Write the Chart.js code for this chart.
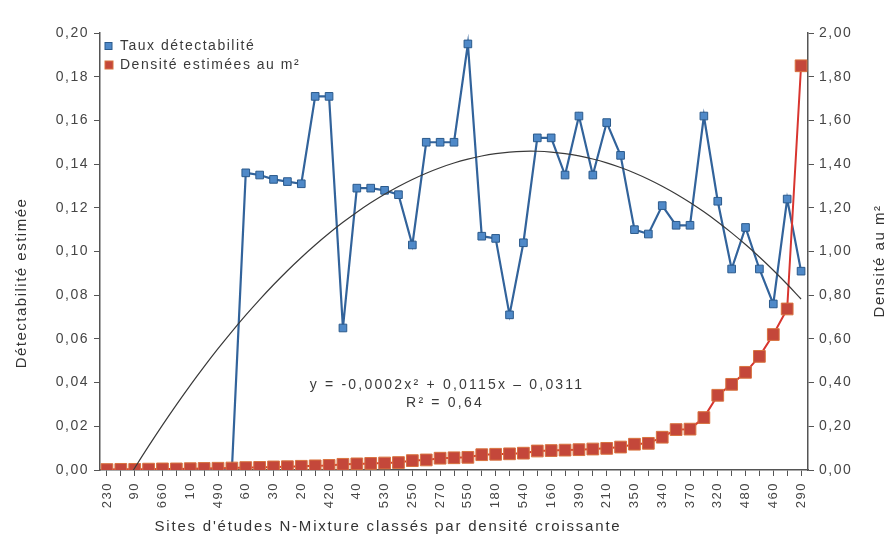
<!DOCTYPE html>
<html lang="fr">
<head>
<meta charset="utf-8">
<title>Détectabilité et densité par site</title>
<script src="https://cdn.jsdelivr.net/npm/chart.js@4.4.1/dist/chart.umd.min.js"></script>
<style>
  html, body { margin: 0; padding: 0; background: #fff; }
  #wrap { width: 892px; height: 543px; position: relative; }
</style>
</head>
<body>
<div id="wrap"><canvas id="chart"></canvas></div>
<script>
// Sites sorted by increasing density (only every other site is labelled)
const sites = ['230', '', '90', '', '660', '', '10', '', '490', '', '60', '', '30', '', '20', '',
  '420', '', '40', '', '530', '', '250', '', '270', '', '550', '', '180', '', '540', '',
  '160', '', '390', '', '210', '', '350', '', '340', '', '370', '', '320', '', '480', '',
  '460', '', '290'];

// Taux de détectabilité (axe gauche)
const detectabilite = [0, 0, 0, 0, 0, 0, 0, 0, 0, 0,
  0.136, 0.135, 0.133, 0.132, 0.131, 0.171, 0.171, 0.065, 0.129, 0.129,
  0.128, 0.126, 0.103, 0.150, 0.150, 0.150, 0.195, 0.107, 0.106, 0.071,
  0.104, 0.152, 0.152, 0.135, 0.162, 0.135, 0.159, 0.144, 0.110, 0.108,
  0.121, 0.112, 0.112, 0.162, 0.123, 0.092, 0.111, 0.092, 0.076, 0.124,
  0.091];

// Densité estimée au m² (axe droit)
const densite = [0.002, 0.003, 0.003, 0.004, 0.005, 0.005, 0.006, 0.007, 0.008, 0.009,
  0.011, 0.012, 0.014, 0.015, 0.017, 0.019, 0.021, 0.026, 0.028, 0.030,
  0.032, 0.034, 0.043, 0.046, 0.054, 0.056, 0.058, 0.070, 0.072, 0.074,
  0.077, 0.087, 0.089, 0.091, 0.093, 0.096, 0.099, 0.105, 0.118, 0.122,
  0.150, 0.185, 0.187, 0.240, 0.342, 0.392, 0.447, 0.520, 0.620, 0.737,
  1.850];

const equationText = 'y = -0,0002x² + 0,0115x – 0,0311';
const r2Text = 'R² = 0,64';

const FONT = "'Liberation Sans', Arial, Helvetica, sans-serif";
Chart.defaults.font.family = FONT;
Chart.defaults.font.size = 14;
Chart.defaults.color = '#454545';

// Least squares polynomial trend (order 2), x = 1..n as in a spreadsheet
function quadFit(ys) {
    const s = [0, 0, 0, 0, 0], t = [0, 0, 0];
    ys.forEach((y, i) => {
        const x = i + 1;
        for (let k = 0; k < 5; k++) s[k] += Math.pow(x, k);
        for (let k = 0; k < 3; k++) t[k] += Math.pow(x, k) * y;
    });
    const m = [
        [s[0], s[1], s[2], t[0]],
        [s[1], s[2], s[3], t[1]],
        [s[2], s[3], s[4], t[2]]
    ];
    for (let i = 0; i < 3; i++) {
        for (let j = i + 1; j < 3; j++) {
            const f = m[j][i] / m[i][i];
            for (let k = i; k < 4; k++) m[j][k] -= f * m[i][k];
        }
    }
    const r = [0, 0, 0];
    for (let i = 2; i >= 0; i--) {
        let v = m[i][3];
        for (let k = i + 1; k < 3; k++) v -= m[i][k] * r[k];
        r[i] = v / m[i][i];
    }
    return r; // [c, b, a]
}

const [c0, c1, c2] = quadFit(detectabilite);
const tendance = detectabilite.map((_, i) => c0 + c1 * (i + 1) + c2 * (i + 1) * (i + 1));

const comma = v => Number(v).toFixed(2).replace('.', ',');

// Legend, axis titles, equation and letter spacing of the printed figure
const textLayer = {
    id: 'textLayer',
    beforeLayout(chart) { chart.ctx.letterSpacing = '1.5px'; },
    beforeDraw(chart) { chart.ctx.letterSpacing = '1.5px'; },
    afterDraw(chart) {
        const ctx = chart.ctx;
        const a = chart.chartArea;
        ctx.save();
        ctx.textBaseline = 'middle';

        // legend, top left inside the plot
        [0, 1].forEach((di, row) => {
            const ds = chart.data.datasets[di];
            const size = row === 0 ? 7 : 8;
            const y = a.top + 13 + row * 19;
            ctx.fillStyle = ds.pointBackgroundColor;
            ctx.fillRect(a.left + 5, y - size / 2, size, size);
            ctx.strokeStyle = ds.pointBorderColor;
            ctx.lineWidth = 1;
            ctx.strokeRect(a.left + 5, y - size / 2, size, size);
            ctx.fillStyle = '#3a3a3a';
            ctx.textAlign = 'left';
            ctx.font = '14px ' + FONT;
            ctx.letterSpacing = '1.5px';
            ctx.fillText(ds.label, a.left + 20, y);
        });

        ctx.fillStyle = '#333';
        ctx.textAlign = 'center';
        ctx.font = '15px ' + FONT;
        ctx.letterSpacing = '1.8px';
        ctx.fillText("Sites d'études N-Mixture classés par densité croissante", a.left + 288, chart.height - 16);

        ctx.letterSpacing = '1.5px';
        ctx.save();
        ctx.translate(22, a.top + 250);
        ctx.rotate(-Math.PI / 2);
        ctx.fillText('Détectabilité estimée', 0, 0);
        ctx.restore();

        ctx.save();
        ctx.translate(chart.width - 12, a.top + 228);
        ctx.rotate(-Math.PI / 2);
        ctx.fillText('Densité au m²', 0, 0);
        ctx.restore();

        ctx.font = '14px ' + FONT;
        ctx.letterSpacing = '2.2px';
        ctx.fillStyle = '#3a3a3a';
        ctx.fillText(equationText, a.left + 347, a.top + 352);
        ctx.fillText(r2Text, a.left + 345, a.top + 370);
        ctx.restore();
    }
};

new Chart(document.getElementById('chart'), {
    type: 'line',
    data: {
        labels: sites,
        datasets: [{
            label: 'Taux détectabilité',
            data: detectabilite,
            yAxisID: 'y',
            borderColor: '#32639b',
            borderWidth: 2.2,
            backgroundColor: '#4f89c8',
            pointBackgroundColor: '#4f89c8',
            pointBorderColor: '#2b5a8c',
            pointBorderWidth: 1,
            pointStyle: 'rect',
            pointRadius: 5.4,
            tension: 0,
            order: 2
        }, {
            label: 'Densité estimées au m²',
            data: densite,
            yAxisID: 'y1',
            borderColor: '#d8352f',
            borderWidth: 2,
            backgroundColor: '#c4473a',
            pointBackgroundColor: '#c4473a',
            pointBorderColor: '#d9733f',
            pointBorderWidth: 1,
            pointStyle: 'rect',
            pointRadius: 8.3,
            tension: 0,
            order: 1
        }, {
            label: 'Tendance',
            data: tendance,
            yAxisID: 'y',
            borderColor: '#3a3a3a',
            borderWidth: 1.2,
            pointRadius: 0,
            tension: 0.4,
            order: 0
        }]
    },
    options: {
        responsive: true,
        maintainAspectRatio: false,
        animation: false,
        layout: { padding: { top: 33, left: 0, right: 0, bottom: 0 } },
        plugins: {
            tooltip: { enabled: false },
            legend: { display: false }
        },
        scales: {
            x: {
                offset: true,
                grid: { drawOnChartArea: false, tickLength: 6, color: '#555' },
                border: { color: '#555', width: 1.5 },
                ticks: { autoSkip: false, minRotation: 90, maxRotation: 90, padding: 6, font: { size: 13 } },
                afterFit: scale => { scale.height = 73; }
            },
            y: {
                position: 'left',
                min: 0,
                max: 0.2,
                grid: { drawOnChartArea: false, tickLength: 6, color: '#555' },
                border: { color: '#555', width: 1.5 },
                ticks: { stepSize: 0.02, padding: 5, callback: comma },
                afterFit: scale => { scale.width = 100; }
            },
            y1: {
                position: 'right',
                min: 0,
                max: 2,
                grid: { drawOnChartArea: false, tickLength: 6, color: '#555' },
                border: { color: '#555', width: 1.5 },
                ticks: { stepSize: 0.2, padding: 5, callback: comma },
                afterFit: scale => { scale.width = 84; }
            }
        }
    },
    plugins: [textLayer]
});
</script>
</body>
</html>
